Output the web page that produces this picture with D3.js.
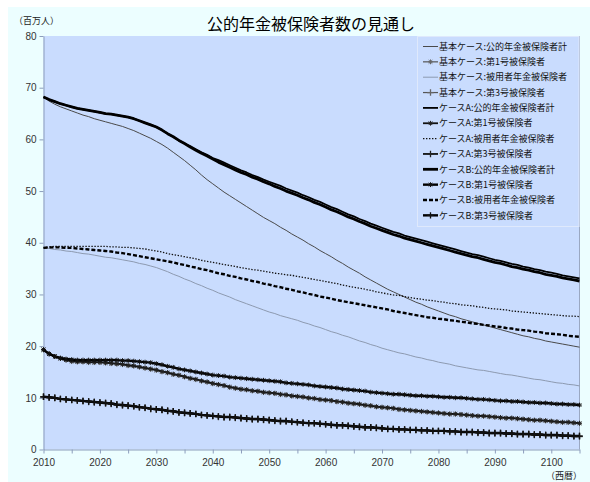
<!DOCTYPE html>
<html>
<head>
<meta charset="utf-8">
<script src="https://cdn.jsdelivr.net/npm/d3@7"></script>
<style>
  body { margin: 0; background: #ffffff; }
  text { font-family: "Noto Sans CJK JP", "Noto Sans", sans-serif; }
</style>
</head>
<body>
<svg id="chart" width="590" height="482"></svg>
<script>
// 年次（2010〜2105年）
const years = d3.range(2010, 2106);

// 公的年金被保険者計（百万人）
const totalBase = [
  68.2, 67.4, 66.8, 66.3, 65.9,  65.5, 65.1, 64.7, 64.4, 64.0,
  63.7, 63.4, 63.1, 62.8, 62.5,  62.1, 61.7, 61.2, 60.7, 60.2,
  59.6, 59.0, 58.3, 57.5, 56.7,  55.9, 55.0, 54.1, 53.1, 52.2,
  51.4, 50.6, 49.8, 49.1, 48.4,  47.7, 47.0, 46.3, 45.6, 44.9,
  44.3, 43.7, 43.0, 42.4, 41.7,  41.1, 40.5, 39.8, 39.2, 38.5,
  37.9, 37.3, 36.6, 36.0, 35.3,  34.7, 34.1, 33.4, 32.8, 32.2,
  31.6, 31.0, 30.5, 30.0, 29.5,  29.0, 28.5, 28.1, 27.6, 27.2,
  26.8, 26.4, 26.0, 25.7, 25.3,  25.0, 24.7, 24.4, 24.1, 23.8,
  23.5, 23.2, 22.9, 22.6, 22.3,  22.0, 21.8, 21.5, 21.3, 21.0,
  20.8, 20.6, 20.4, 20.2, 20.0,  19.8
];
const totalA = [
  68.2, 67.7, 67.3, 66.9, 66.6,  66.3, 66.0, 65.8, 65.6, 65.4,
  65.2, 65.0, 64.9, 64.7, 64.5,  64.3, 64.0, 63.6, 63.2, 62.8,
  62.4, 61.8, 61.1, 60.5, 59.8,  59.2, 58.7, 58.1, 57.5, 57.0,
  56.4, 56.0, 55.5, 55.0, 54.5,  54.0, 53.6, 53.1, 52.7, 52.2,
  51.8, 51.4, 51.0, 50.5, 50.1,  49.7, 49.2, 48.8, 48.3, 47.9,
  47.4, 46.9, 46.5, 46.0, 45.5,  45.1, 44.6, 44.2, 43.7, 43.3,
  42.9, 42.5, 42.1, 41.8, 41.4,  41.1, 40.8, 40.5, 40.2, 39.9,
  39.6, 39.3, 39.0, 38.7, 38.4,  38.1, 37.8, 37.6, 37.3, 37.0,
  36.7, 36.5, 36.2, 35.9, 35.7,  35.4, 35.2, 34.9, 34.7, 34.4,
  34.2, 34.0, 33.7, 33.5, 33.3,  33.1
];
const totalB = [
  68.2, 67.7, 67.3, 66.9, 66.6,  66.3, 66.0, 65.8, 65.6, 65.4,
  65.2, 65.0, 64.9, 64.7, 64.5,  64.3, 64.0, 63.6, 63.2, 62.8,
  62.4, 61.8, 61.1, 60.5, 59.8,  59.2, 58.5, 57.9, 57.3, 56.8,
  56.2, 55.6, 55.1, 54.6, 54.1,  53.6, 53.2, 52.7, 52.3, 51.8,
  51.4, 50.9, 50.5, 50.0, 49.6,  49.2, 48.7, 48.3, 47.8, 47.4,
  46.9, 46.4, 46.0, 45.5, 45.0,  44.6, 44.1, 43.7, 43.2, 42.8,
  42.4, 42.0, 41.6, 41.3, 40.9,  40.6, 40.3, 40.0, 39.7, 39.4,
  39.1, 38.8, 38.5, 38.2, 37.9,  37.6, 37.3, 37.1, 36.8, 36.5,
  36.2, 36.0, 35.7, 35.4, 35.2,  34.9, 34.7, 34.4, 34.2, 33.9,
  33.7, 33.5, 33.2, 33.0, 32.8,  32.6
];

// 被用者年金被保険者（百万人）
const employeeBase = [
  39.0, 38.9, 38.7, 38.6, 38.4,  38.3, 38.1, 37.9, 37.8, 37.6,
  37.4, 37.2, 37.1, 36.9, 36.7,  36.5, 36.3, 36.0, 35.8, 35.5,
  35.2, 34.8, 34.4, 33.9, 33.5,  33.0, 32.6, 32.1, 31.7, 31.2,
  30.8, 30.3, 29.9, 29.5, 29.0,  28.6, 28.2, 27.8, 27.4, 27.0,
  26.6, 26.3, 25.9, 25.6, 25.3,  25.0, 24.6, 24.3, 23.9, 23.6,
  23.2, 22.8, 22.5, 22.1, 21.8,  21.4, 21.0, 20.7, 20.3, 20.0,
  19.6, 19.3, 19.0, 18.7, 18.5,  18.2, 17.9, 17.7, 17.4, 17.2,
  16.9, 16.7, 16.5, 16.2, 16.0,  15.8, 15.6, 15.4, 15.3, 15.1,
  14.9, 14.7, 14.5, 14.4, 14.2,  14.0, 13.8, 13.6, 13.5, 13.3,
  13.1, 12.9, 12.8, 12.6, 12.5,  12.3
];
const employeeA = [
  39.0, 39.2, 39.3, 39.3, 39.3,  39.3, 39.3, 39.3, 39.3, 39.3,
  39.3, 39.3, 39.2, 39.2, 39.1,  39.1, 39.0, 38.9, 38.8, 38.6,
  38.4, 38.2, 37.9, 37.7, 37.5,  37.3, 37.1, 36.9, 36.6, 36.4,
  36.2, 36.0, 35.8, 35.6, 35.4,  35.2, 35.0, 34.8, 34.7, 34.5,
  34.3, 34.1, 34.0, 33.8, 33.7,  33.5, 33.3, 33.1, 32.9, 32.7,
  32.5, 32.3, 32.1, 31.8, 31.6,  31.4, 31.2, 31.0, 30.8, 30.5,
  30.3, 30.1, 29.9, 29.8, 29.6,  29.4, 29.2, 29.1, 28.9, 28.8,
  28.6, 28.5, 28.3, 28.2, 28.0,  27.9, 27.8, 27.6, 27.5, 27.3,
  27.2, 27.1, 27.0, 26.8, 26.7,  26.6, 26.5, 26.4, 26.3, 26.2,
  26.1, 26.0, 25.9, 25.8, 25.8,  25.7
];
const employeeB = [
  39.0, 39.1, 39.1, 39.1, 39.0,  39.0, 38.9, 38.8, 38.7, 38.6,
  38.5, 38.4, 38.3, 38.1, 38.0,  37.8, 37.6, 37.4, 37.2, 37.0,
  36.8, 36.6, 36.4, 36.2, 35.9,  35.7, 35.4, 35.2, 34.9, 34.7,
  34.4, 34.1, 33.9, 33.6, 33.4,  33.1, 32.9, 32.6, 32.4, 32.1,
  31.9, 31.6, 31.4, 31.1, 30.9,  30.6, 30.4, 30.1, 29.9, 29.6,
  29.4, 29.2, 28.9, 28.7, 28.5,  28.3, 28.1, 27.9, 27.7, 27.5,
  27.3, 27.1, 26.8, 26.6, 26.4,  26.2, 26.0, 25.8, 25.6, 25.5,
  25.3, 25.2, 25.0, 24.9, 24.7,  24.6, 24.4, 24.3, 24.1, 24.0,
  23.8, 23.7, 23.5, 23.4, 23.2,  23.1, 23.0, 22.8, 22.7, 22.5,
  22.4, 22.3, 22.2, 22.0, 21.9,  21.8
];

// 第1号被保険者（百万人）
const firstBase = [
  19.3, 18.5, 18.0, 17.6, 17.3,  17.0, 16.9, 16.9, 16.8, 16.8,
  16.8, 16.7, 16.6, 16.5, 16.4,  16.2, 16.1, 15.9, 15.7, 15.5,
  15.3, 15.0, 14.8, 14.5, 14.3,  14.0, 13.7, 13.5, 13.2, 13.0,
  12.7, 12.5, 12.3, 12.0, 11.8,  11.6, 11.5, 11.3, 11.2, 11.0,
  10.9, 10.8, 10.6, 10.5, 10.3,  10.2, 10.1, 9.9, 9.8, 9.6,
  9.5, 9.4, 9.2, 9.1, 8.9,  8.8, 8.7, 8.5, 8.4, 8.2,
  8.1, 8.0, 7.9, 7.7, 7.6,  7.5, 7.4, 7.3, 7.2, 7.1,
  7.0, 6.9, 6.8, 6.8, 6.7,  6.6, 6.5, 6.4, 6.4, 6.3,
  6.2, 6.1, 6.0, 6.0, 5.9,  5.8, 5.7, 5.6, 5.6, 5.5,
  5.4, 5.3, 5.2, 5.2, 5.1,  5.0
];
const firstA = [
  19.3, 18.5, 18.0, 17.6, 17.3,  17.1, 17.0, 17.0, 16.9, 16.9,
  16.9, 16.8, 16.7, 16.6, 16.5,  16.3, 16.2, 16.0, 15.8, 15.6,
  15.4, 15.1, 14.9, 14.6, 14.4,  14.1, 13.8, 13.6, 13.3, 13.1,
  12.8, 12.6, 12.4, 12.1, 11.9,  11.7, 11.6, 11.4, 11.3, 11.1,
  11.0, 10.9, 10.7, 10.6, 10.4,  10.3, 10.2, 10.0, 9.9, 9.7,
  9.6, 9.5, 9.3, 9.2, 9.0,  8.9, 8.8, 8.6, 8.5, 8.3,
  8.2, 8.1, 8.0, 7.8, 7.7,  7.6, 7.5, 7.4, 7.3, 7.2,
  7.1, 7.0, 6.9, 6.9, 6.8,  6.7, 6.6, 6.5, 6.5, 6.4,
  6.3, 6.2, 6.1, 6.1, 6.0,  5.9, 5.8, 5.7, 5.7, 5.6,
  5.5, 5.4, 5.3, 5.3, 5.2,  5.1
];
const firstB = [
  19.3, 18.5, 18.0, 17.7, 17.5,  17.4, 17.3, 17.3, 17.3, 17.3,
  17.3, 17.3, 17.3, 17.3, 17.2,  17.2, 17.1, 17.0, 16.9, 16.8,
  16.6, 16.4, 16.1, 15.9, 15.6,  15.4, 15.2, 15.0, 14.8, 14.6,
  14.4, 14.3, 14.2, 14.0, 13.9,  13.8, 13.7, 13.6, 13.5, 13.4,
  13.3, 13.2, 13.1, 12.9, 12.8,  12.7, 12.6, 12.5, 12.3, 12.2,
  12.1, 12.0, 11.9, 11.7, 11.6,  11.5, 11.4, 11.3, 11.1, 11.0,
  10.9, 10.8, 10.7, 10.7, 10.6,  10.5, 10.4, 10.4, 10.3, 10.3,
  10.2, 10.1, 10.1, 10.0, 10.0,  9.9, 9.8, 9.7, 9.7, 9.6,
  9.5, 9.4, 9.4, 9.3, 9.3,  9.2, 9.1, 9.1, 9.0, 9.0,
  8.9, 8.8, 8.8, 8.7, 8.7,  8.6
];

// 第3号被保険者（百万人）
const thirdBase = [
  10.2, 10.0, 9.9, 9.7, 9.6,  9.5, 9.4, 9.3, 9.2, 9.1,
  9.0, 8.9, 8.8, 8.6, 8.5,  8.4, 8.3, 8.1, 8.0, 7.8,
  7.7, 7.6, 7.4, 7.3, 7.1,  7.0, 6.9, 6.8, 6.6, 6.5,
  6.4, 6.3, 6.2, 6.2, 6.1,  6.0, 5.9, 5.8, 5.8, 5.7,
  5.6, 5.5, 5.4, 5.4, 5.3,  5.2, 5.1, 5.0, 5.0, 4.9,
  4.8, 4.7, 4.6, 4.6, 4.5,  4.4, 4.3, 4.2, 4.2, 4.1,
  4.0, 3.9, 3.9, 3.8, 3.8,  3.7, 3.7, 3.6, 3.6, 3.5,
  3.5, 3.5, 3.4, 3.4, 3.3,  3.3, 3.3, 3.2, 3.2, 3.1,
  3.1, 3.1, 3.0, 3.0, 2.9,  2.9, 2.9, 2.8, 2.8, 2.7,
  2.7, 2.7, 2.6, 2.6, 2.5,  2.5
];
const thirdA = [
  10.2, 10.1, 10.0, 9.8, 9.7,  9.6, 9.5, 9.4, 9.3, 9.2,
  9.1, 9.0, 8.9, 8.7, 8.6,  8.5, 8.4, 8.2, 8.1, 7.9,
  7.8, 7.7, 7.5, 7.4, 7.2,  7.1, 7.0, 6.9, 6.7, 6.6,
  6.5, 6.4, 6.3, 6.3, 6.2,  6.1, 6.0, 5.9, 5.9, 5.8,
  5.7, 5.6, 5.5, 5.5, 5.4,  5.3, 5.2, 5.1, 5.1, 5.0,
  4.9, 4.8, 4.7, 4.7, 4.6,  4.5, 4.4, 4.3, 4.3, 4.2,
  4.1, 4.0, 4.0, 3.9, 3.9,  3.8, 3.8, 3.7, 3.7, 3.6,
  3.6, 3.6, 3.5, 3.5, 3.4,  3.4, 3.4, 3.3, 3.3, 3.2,
  3.2, 3.2, 3.1, 3.1, 3.0,  3.0, 3.0, 2.9, 2.9, 2.8,
  2.8, 2.8, 2.7, 2.7, 2.6,  2.6
];
const thirdB = [
  10.2, 10.1, 10.0, 9.8, 9.7,  9.6, 9.5, 9.4, 9.3, 9.2,
  9.1, 9.0, 8.9, 8.7, 8.6,  8.5, 8.4, 8.2, 8.1, 7.9,
  7.8, 7.7, 7.5, 7.4, 7.2,  7.1, 7.0, 6.9, 6.7, 6.6,
  6.5, 6.4, 6.3, 6.3, 6.2,  6.1, 6.0, 5.9, 5.9, 5.8,
  5.7, 5.6, 5.5, 5.5, 5.4,  5.3, 5.2, 5.1, 5.1, 5.0,
  4.9, 4.8, 4.7, 4.7, 4.6,  4.5, 4.4, 4.3, 4.3, 4.2,
  4.1, 4.0, 4.0, 3.9, 3.9,  3.8, 3.8, 3.7, 3.7, 3.6,
  3.6, 3.6, 3.5, 3.5, 3.4,  3.4, 3.4, 3.3, 3.3, 3.2,
  3.2, 3.2, 3.1, 3.1, 3.0,  3.0, 3.0, 2.9, 2.9, 2.8,
  2.8, 2.8, 2.7, 2.7, 2.6,  2.6
];

// 凡例ラベル
const seriesLabels = [
  "基本ケース:公的年金被保険者計",
  "基本ケース:第1号被保険者",
  "基本ケース:被用者年金被保険者",
  "基本ケース:第3号被保険者",
  "ケースA:公的年金被保険者計",
  "ケースA:第1号被保険者",
  "ケースA:被用者年金被保険者",
  "ケースA:第3号被保険者",
  "ケースB:公的年金被保険者計",
  "ケースB:第1号被保険者",
  "ケースB:被用者年金被保険者",
  "ケースB:第3号被保険者"
];

const yTicks = [0, 10, 20, 30, 40, 50, 60, 70, 80];
const xTicks = d3.range(2010, 2106, 5);

// 系列ごとの線種・マーカー
const seriesValues = [
  totalBase, firstBase, employeeBase, thirdBase,
  totalA, firstA, employeeA, thirdA,
  totalB, firstB, employeeB, thirdB
];
const seriesStyles = [
  { color: "#4a4a4a", width: 1.0, dash: null },
  { color: "#555555", width: 1.2, dash: null, marker: "star", mColor: "#666666" },
  { color: "#8d9ab0", width: 1.0, dash: null },
  { color: "#555555", width: 1.2, dash: null, marker: "plus", mColor: "#666666" },
  { color: "#000000", width: 1.8, dash: null },
  { color: "#111111", width: 1.8, dash: null, marker: "star", mColor: "#222222" },
  { color: "#111111", width: 1.3, dash: "1.4,1.6" },
  { color: "#111111", width: 1.8, dash: null, marker: "plus", mColor: "#222222" },
  { color: "#000000", width: 2.8, dash: null },
  { color: "#000000", width: 2.4, dash: null, marker: "star", mColor: "#111111" },
  { color: "#000000", width: 2.4, dash: "4,2" },
  { color: "#000000", width: 2.4, dash: null, marker: "plus", mColor: "#111111" }
];

const series = seriesLabels.map((label, i) => ({
  label,
  values: seriesValues[i].map((v, j) => ({ year: years[j], value: v })),
  style: seriesStyles[i]
}));

const svg = d3.select("#chart");
const W = 590, H = 482;
const plot = { left: 43.5, right: 579.5, top: 36, bottom: 449.5 };

// 背景
svg.append("rect").attr("x", 0).attr("y", 0).attr("width", W).attr("height", H).attr("fill", "#ffffff");
svg.append("rect").attr("x", 8).attr("y", 7).attr("width", W - 8).attr("height", H - 7).attr("fill", "#ecfeff");
svg.append("rect")
  .attr("x", plot.left).attr("y", plot.top)
  .attr("width", plot.right - plot.left).attr("height", plot.bottom - plot.top)
  .attr("fill", "#c9dcfe");

const x = d3.scaleLinear().domain([2010, 2105]).range([plot.left, plot.right]);
const y = d3.scaleLinear().domain([0, 80]).range([plot.bottom, plot.top]);

const axisColor = "#8c9dbc";

// Y軸
const yAxis = svg.append("g")
  .attr("transform", `translate(${plot.left},0)`)
  .call(d3.axisLeft(y).tickValues(yTicks).tickSize(4).tickPadding(3).tickSizeOuter(0));
// X軸
const xAxis = svg.append("g")
  .attr("transform", `translate(0,${plot.bottom})`)
  .call(d3.axisBottom(x).tickValues(xTicks).tickSize(4).tickPadding(3).tickSizeOuter(0)
    .tickFormat(d => d % 10 === 0 && d <= 2100 ? String(d) : ""));

[yAxis, xAxis].forEach(g => {
  g.select(".domain").attr("stroke", axisColor);
  g.selectAll(".tick line").attr("stroke", axisColor);
  g.selectAll(".tick text")
    .attr("fill", "#333333")
    .style("font-family", "'Liberation Sans', Arial, sans-serif")
    .style("font-size", "10px");
});
xAxis.selectAll(".tick text").attr("dy", "0.98em");

// 右端の枠線
svg.append("line")
  .attr("x1", plot.right).attr("x2", plot.right)
  .attr("y1", plot.top).attr("y2", plot.bottom)
  .attr("stroke", "#9aa8c2").attr("stroke-width", 1);

// マーカー形状
function markerPath(type, r) {
  if (type === "star") {
    const d = r * 0.75;
    return `M${-r},0L${r},0M0,${-r}L0,${r}M${-d},${-d}L${d},${d}M${-d},${d}L${d},${-d}`;
  }
  return `M${-r},0L${r},0M0,${-r}L0,${r}`;
}

const line = d3.line().x(d => x(d.year)).y(d => y(d.value));

const gSeries = svg.append("g");
series.forEach(s => {
  const st = s.style;
  gSeries.append("path")
    .datum(s.values)
    .attr("fill", "none")
    .attr("stroke", st.color)
    .attr("stroke-width", st.width)
    .attr("stroke-dasharray", st.dash)
    .attr("stroke-linejoin", "round")
    .attr("d", line);
  if (st.marker) {
    const r = st.marker === "star" ? 2.4 : 3.2;
    gSeries.append("g")
      .selectAll("path")
      .data(s.values)
      .join("path")
      .attr("transform", d => `translate(${x(d.year)},${y(d.value)})`)
      .attr("d", markerPath(st.marker, r))
      .attr("fill", "none")
      .attr("stroke", st.mColor)
      .attr("stroke-width", st.marker === "star" ? 1.0 : 1.3);
  }
});

// タイトル・単位
svg.append("text")
  .attr("x", 311).attr("y", 30)
  .attr("text-anchor", "middle")
  .style("font-size", "16px")
  .attr("fill", "#000")
  .text("公的年金被保険者数の見通し");
svg.append("text")
  .attr("x", 14).attr("y", 24)
  .style("font-size", "9px")
  .attr("fill", "#222")
  .text("（百万人）");
svg.append("text")
  .attr("x", 582).attr("y", 479)
  .attr("text-anchor", "end")
  .style("font-size", "9px")
  .attr("fill", "#222")
  .text("（西暦）");

// 凡例
const legend = svg.append("g");
legend.append("rect")
  .attr("x", 417.5).attr("y", 36.5).attr("width", 161.5).attr("height", 190)
  .attr("fill", "#c9dcfe").attr("stroke", "#dfe9fc").attr("stroke-width", 1);
const rowH = 15.35;
series.forEach((s, i) => {
  const st = s.style;
  const cy = 46.5 + i * rowH;
  const row = legend.append("g").attr("transform", `translate(0,${cy})`);
  row.append("line")
    .attr("x1", 423).attr("x2", 438).attr("y1", 0).attr("y2", 0)
    .attr("stroke", st.color)
    .attr("stroke-width", st.width)
    .attr("stroke-dasharray", st.dash);
  if (st.marker) {
    row.append("path")
      .attr("transform", "translate(430.5,0)")
      .attr("d", markerPath(st.marker, st.marker === "star" ? 2.4 : 3.2))
      .attr("fill", "none")
      .attr("stroke", st.mColor)
      .attr("stroke-width", st.marker === "star" ? 1.0 : 1.3);
  }
  row.append("text")
    .attr("x", 439).attr("y", 3.2)
    .style("font-size", "9px")
    .attr("fill", "#111")
    .text(s.label);
});
</script>
</body>
</html>
